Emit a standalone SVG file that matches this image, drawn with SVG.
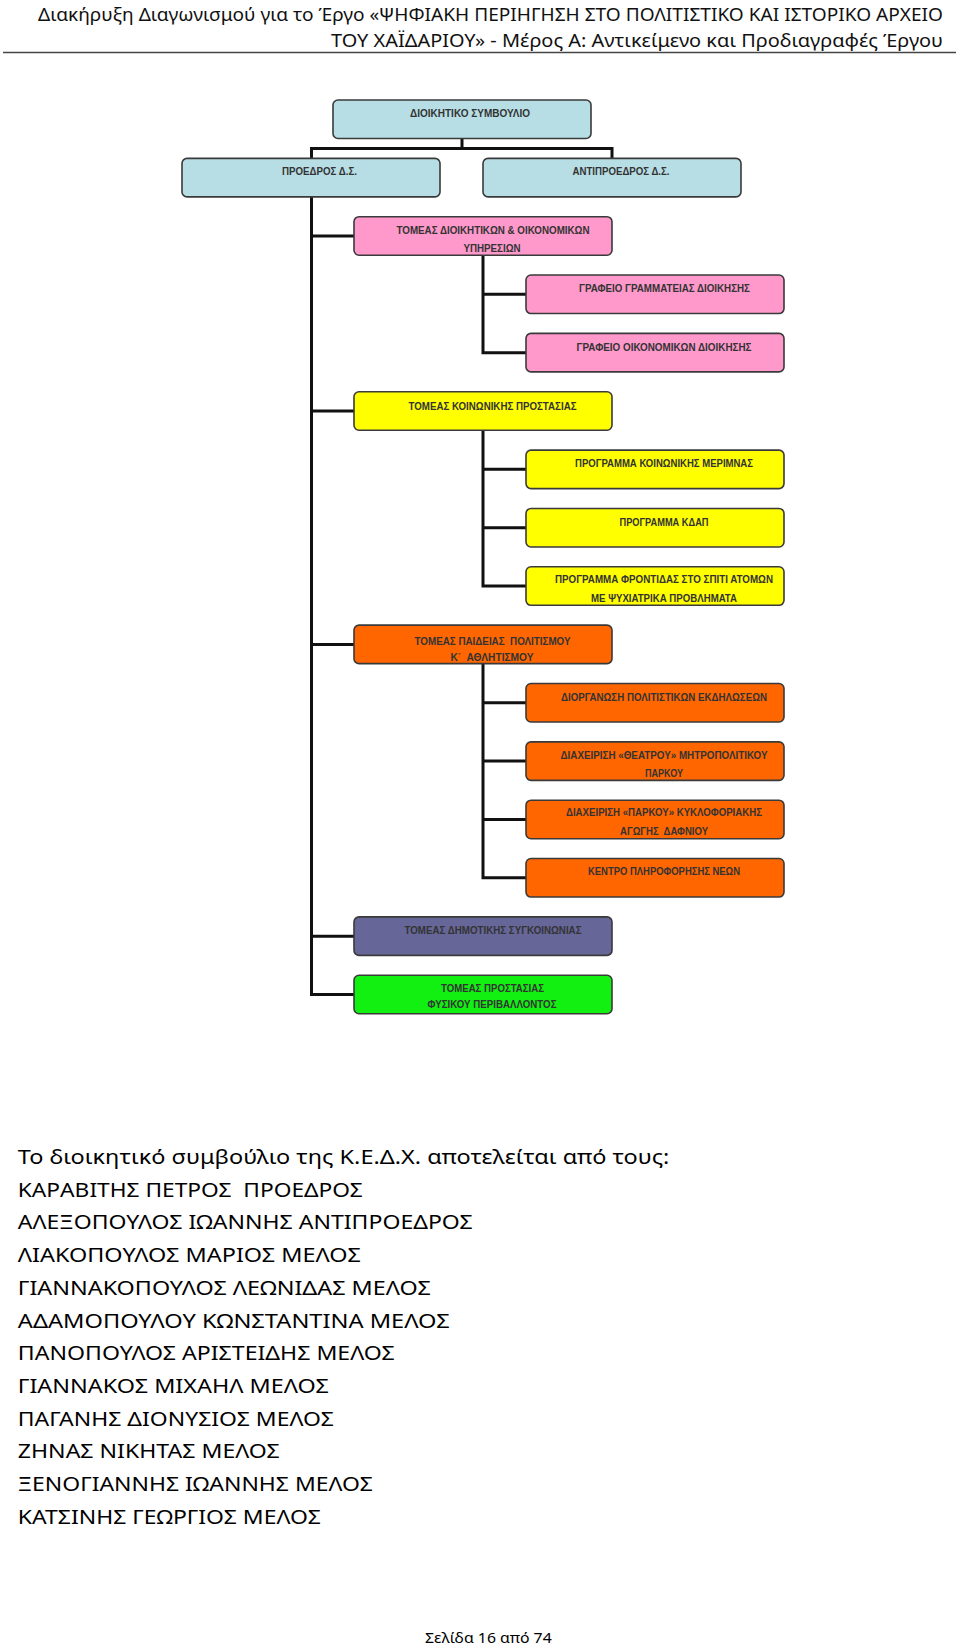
<svg xmlns="http://www.w3.org/2000/svg" width="960" height="1646" viewBox="0 0 960 1646">
<style>
.bg{fill:#ffffff}
.box{stroke:#3a3a3a;stroke-width:1.6}
.blue{fill:#b7dee5}
.pink{fill:#ff99cc}
.yellow{fill:#ffff00}
.orange{fill:#ff6600}
.purple{fill:#666699}
.green{fill:#11f011}
.bt{font-family:"Liberation Sans",Arial,sans-serif;font-size:10.5px;font-weight:bold;fill:#333333;text-anchor:middle}
.conn{fill:none;stroke:#111111;stroke-width:3;stroke-linejoin:miter}
.hdr{font-family:"Noto Sans","Open Sans",sans-serif;font-size:18px;fill:#111111;text-anchor:end}
.body{font-family:"Noto Sans","Open Sans",sans-serif;font-size:20px;fill:#000000}
.foot{font-family:"Noto Sans","Open Sans",sans-serif;font-size:15px;fill:#000000}
</style>
<rect class="bg" x="0" y="0" width="960" height="1646"/>

<g id="header">
<text class="hdr" x="943" y="20.5" textLength="905" lengthAdjust="spacingAndGlyphs">Διακήρυξη Διαγωνισμού για το Έργο «ΨΗΦΙΑΚΗ ΠΕΡΙΗΓΗΣΗ ΣΤΟ ΠΟΛΙΤΙΣΤΙΚΟ ΚΑΙ ΙΣΤΟΡΙΚΟ ΑΡΧΕΙΟ</text>
<text class="hdr" x="943" y="46.5" textLength="612" lengthAdjust="spacingAndGlyphs">ΤΟΥ ΧΑΪΔΑΡΙΟΥ» - Μέρος Α: Αντικείμενο και Προδιαγραφές Έργου</text>
<line x1="3" y1="52.5" x2="956" y2="52.5" stroke="#444444" stroke-width="1.4"/>
</g>

<g id="connectors">
<path class="conn" d="M462 138.5 V148.5 M311.5 158.4 V148.5 H612 V158.4"/>
<path class="conn" d="M311.5 196.9 V994.5 H354"/>
<path class="conn" d="M311.5 236 H354 M311.5 411 H354 M311.5 644.4 H354 M311.5 936.2 H354"/>
<path class="conn" d="M483 255.2 V352.65 H526 M483 294.3 H526"/>
<path class="conn" d="M483 430.25 V586.05 H526 M483 469.35 H526 M483 527.7 H526"/>
<path class="conn" d="M483 663.65 V877.8 H526 M483 702.75 H526 M483 761.1 H526 M483 819.45 H526"/>
</g>

<g id="n-board"><rect class="box blue" x="333" y="100" width="258" height="38.5" rx="5"/><text class="bt" x="470" y="116.8" textLength="120" lengthAdjust="spacingAndGlyphs">ΔΙΟΙΚΗΤΙΚΟ ΣΥΜΒΟΥΛΙΟ</text></g>
<g id="n-president"><rect class="box blue" x="182" y="158.4" width="258" height="38.5" rx="5"/><text class="bt" x="319.5" y="175.2" textLength="75" lengthAdjust="spacingAndGlyphs">ΠΡΟΕΔΡΟΣ Δ.Σ.</text></g>
<g id="n-vicepresident"><rect class="box blue" x="483" y="158.4" width="258" height="38.5" rx="5"/><text class="bt" x="621" y="175.2" textLength="97" lengthAdjust="spacingAndGlyphs">ΑΝΤΙΠΡΟΕΔΡΟΣ Δ.Σ.</text></g>

<g id="n-admin"><rect class="box pink" x="354" y="216.7" width="258" height="38.5" rx="5"/><text class="bt" x="493" y="233.8" textLength="193" lengthAdjust="spacingAndGlyphs">ΤΟΜΕΑΣ ΔΙΟΙΚΗΤΙΚΩΝ &amp; ΟΙΚΟΝΟΜΙΚΩΝ</text><text class="bt" x="492" y="252" textLength="57" lengthAdjust="spacingAndGlyphs">ΥΠΗΡΕΣΙΩΝ</text></g>
<g id="n-secretariat"><rect class="box pink" x="526" y="275.05" width="258" height="38.5" rx="5"/><text class="bt" x="664.5" y="292.1" textLength="171" lengthAdjust="spacingAndGlyphs">ΓΡΑΦΕΙΟ ΓΡΑΜΜΑΤΕΙΑΣ ΔΙΟΙΚΗΣΗΣ</text></g>
<g id="n-finance"><rect class="box pink" x="526" y="333.4" width="258" height="38.5" rx="5"/><text class="bt" x="664" y="350.5" textLength="175" lengthAdjust="spacingAndGlyphs">ΓΡΑΦΕΙΟ ΟΙΚΟΝΟΜΙΚΩΝ ΔΙΟΙΚΗΣΗΣ</text></g>

<g id="n-social"><rect class="box yellow" x="354" y="391.75" width="258" height="38.5" rx="5"/><text class="bt" x="492.5" y="409.5" textLength="168" lengthAdjust="spacingAndGlyphs">ΤΟΜΕΑΣ ΚΟΙΝΩΝΙΚΗΣ ΠΡΟΣΤΑΣΙΑΣ</text></g>
<g id="n-welfare"><rect class="box yellow" x="526" y="450.1" width="258" height="38.5" rx="5"/><text class="bt" x="664" y="467.1" textLength="178" lengthAdjust="spacingAndGlyphs">ΠΡΟΓΡΑΜΜΑ ΚΟΙΝΩΝΙΚΗΣ ΜΕΡΙΜΝΑΣ</text></g>
<g id="n-kdap"><rect class="box yellow" x="526" y="508.45" width="258" height="38.5" rx="5"/><text class="bt" x="664" y="525.5" textLength="89" lengthAdjust="spacingAndGlyphs">ΠΡΟΓΡΑΜΜΑ ΚΔΑΠ</text></g>
<g id="n-homecare"><rect class="box yellow" x="526" y="566.8" width="258" height="38.5" rx="5"/><text class="bt" x="664" y="583.1" textLength="218" lengthAdjust="spacingAndGlyphs">ΠΡΟΓΡΑΜΜΑ ΦΡΟΝΤΙΔΑΣ ΣΤΟ ΣΠΙΤΙ ΑΤΟΜΩΝ</text><text class="bt" x="664" y="602" textLength="146" lengthAdjust="spacingAndGlyphs">ΜΕ ΨΥΧΙΑΤΡΙΚΑ ΠΡΟΒΛΗΜΑΤΑ</text></g>

<g id="n-education"><rect class="box orange" x="354" y="625.15" width="258" height="38.5" rx="5"/><text class="bt" x="492.5" y="644.9" textLength="156" lengthAdjust="spacingAndGlyphs" xml:space="preserve">ΤΟΜΕΑΣ ΠΑΙΔΕΙΑΣ  ΠΟΛΙΤΙΣΜΟΥ</text><text class="bt" x="492" y="661" textLength="83" lengthAdjust="spacingAndGlyphs" xml:space="preserve">Κ΄  ΑΘΛΗΤΙΣΜΟΥ</text></g>
<g id="n-events"><rect class="box orange" x="526" y="683.5" width="258" height="38.5" rx="5"/><text class="bt" x="664" y="700.5" textLength="206" lengthAdjust="spacingAndGlyphs">ΔΙΟΡΓΑΝΩΣΗ ΠΟΛΙΤΙΣΤΙΚΩΝ ΕΚΔΗΛΩΣΕΩΝ</text></g>
<g id="n-theatre"><rect class="box orange" x="526" y="741.85" width="258" height="38.5" rx="5"/><text class="bt" x="664" y="758.8" textLength="207" lengthAdjust="spacingAndGlyphs">ΔΙΑΧΕΙΡΙΣΗ «ΘΕΑΤΡΟΥ» ΜΗΤΡΟΠΟΛΙΤΙΚΟΥ</text><text class="bt" x="664" y="777" textLength="38" lengthAdjust="spacingAndGlyphs">ΠΑΡΚΟΥ</text></g>
<g id="n-traffic"><rect class="box orange" x="526" y="800.2" width="258" height="38.5" rx="5"/><text class="bt" x="664" y="816.1" textLength="196" lengthAdjust="spacingAndGlyphs">ΔΙΑΧΕΙΡΙΣΗ «ΠΑΡΚΟΥ» ΚΥΚΛΟΦΟΡΙΑΚΗΣ</text><text class="bt" x="664" y="835.4" textLength="88" lengthAdjust="spacingAndGlyphs" xml:space="preserve">ΑΓΩΓΗΣ  ΔΑΦΝΙΟΥ</text></g>
<g id="n-youth"><rect class="box orange" x="526" y="858.55" width="258" height="38.5" rx="5"/><text class="bt" x="664" y="874.5" textLength="152" lengthAdjust="spacingAndGlyphs">ΚΕΝΤΡΟ ΠΛΗΡΟΦΟΡΗΣΗΣ ΝΕΩΝ</text></g>

<g id="n-transport"><rect class="box purple" x="354" y="916.9" width="258" height="38.5" rx="5"/><text class="bt" x="493" y="933.8" textLength="177" lengthAdjust="spacingAndGlyphs">ΤΟΜΕΑΣ ΔΗΜΟΤΙΚΗΣ ΣΥΓΚΟΙΝΩΝΙΑΣ</text></g>
<g id="n-environment"><rect class="box green" x="354" y="975.25" width="258" height="38.5" rx="5"/><text class="bt" x="492.5" y="992.1" textLength="103" lengthAdjust="spacingAndGlyphs">ΤΟΜΕΑΣ ΠΡΟΣΤΑΣΙΑΣ</text><text class="bt" x="492" y="1008" textLength="129" lengthAdjust="spacingAndGlyphs">ΦΥΣΙΚΟΥ ΠΕΡΙΒΑΛΛΟΝΤΟΣ</text></g>

<g id="members">
<text class="body" x="17.8" y="1164" textLength="651.6" lengthAdjust="spacingAndGlyphs">Το διοικητικό συμβούλιο της Κ.Ε.Δ.Χ. αποτελείται από τους:</text>
<text class="body" x="17.8" y="1196.7" textLength="345" lengthAdjust="spacingAndGlyphs" xml:space="preserve">ΚΑΡΑΒΙΤΗΣ ΠΕΤΡΟΣ  ΠΡΟΕΔΡΟΣ</text>
<text class="body" x="17.8" y="1229.4" textLength="455" lengthAdjust="spacingAndGlyphs">ΑΛΕΞΟΠΟΥΛΟΣ ΙΩΑΝΝΗΣ ΑΝΤΙΠΡΟΕΔΡΟΣ</text>
<text class="body" x="17.8" y="1262.1" textLength="343" lengthAdjust="spacingAndGlyphs">ΛΙΑΚΟΠΟΥΛΟΣ ΜΑΡΙΟΣ ΜΕΛΟΣ</text>
<text class="body" x="17.8" y="1294.8" textLength="413" lengthAdjust="spacingAndGlyphs">ΓΙΑΝΝΑΚΟΠΟΥΛΟΣ ΛΕΩΝΙΔΑΣ ΜΕΛΟΣ</text>
<text class="body" x="17.8" y="1327.5" textLength="432" lengthAdjust="spacingAndGlyphs">ΑΔΑΜΟΠΟΥΛΟΥ ΚΩΝΣΤΑΝΤΙΝΑ ΜΕΛΟΣ</text>
<text class="body" x="17.8" y="1360.2" textLength="377" lengthAdjust="spacingAndGlyphs">ΠΑΝΟΠΟΥΛΟΣ ΑΡΙΣΤΕΙΔΗΣ ΜΕΛΟΣ</text>
<text class="body" x="17.8" y="1392.9" textLength="311" lengthAdjust="spacingAndGlyphs">ΓΙΑΝΝΑΚΟΣ ΜΙΧΑΗΛ ΜΕΛΟΣ</text>
<text class="body" x="17.8" y="1425.6" textLength="316" lengthAdjust="spacingAndGlyphs">ΠΑΓΑΝΗΣ ΔΙΟΝΥΣΙΟΣ ΜΕΛΟΣ</text>
<text class="body" x="17.8" y="1458.3" textLength="262" lengthAdjust="spacingAndGlyphs">ΖΗΝΑΣ ΝΙΚΗΤΑΣ ΜΕΛΟΣ</text>
<text class="body" x="17.8" y="1491" textLength="355" lengthAdjust="spacingAndGlyphs">ΞΕΝΟΓΙΑΝΝΗΣ ΙΩΑΝΝΗΣ ΜΕΛΟΣ</text>
<text class="body" x="17.8" y="1523.7" textLength="303" lengthAdjust="spacingAndGlyphs">ΚΑΤΣΙΝΗΣ ΓΕΩΡΓΙΟΣ ΜΕΛΟΣ</text>
</g>

<g id="footer">
<text class="foot" x="425" y="1643" textLength="126.7" lengthAdjust="spacingAndGlyphs">Σελίδα 16 από 74</text>
</g>
</svg>
